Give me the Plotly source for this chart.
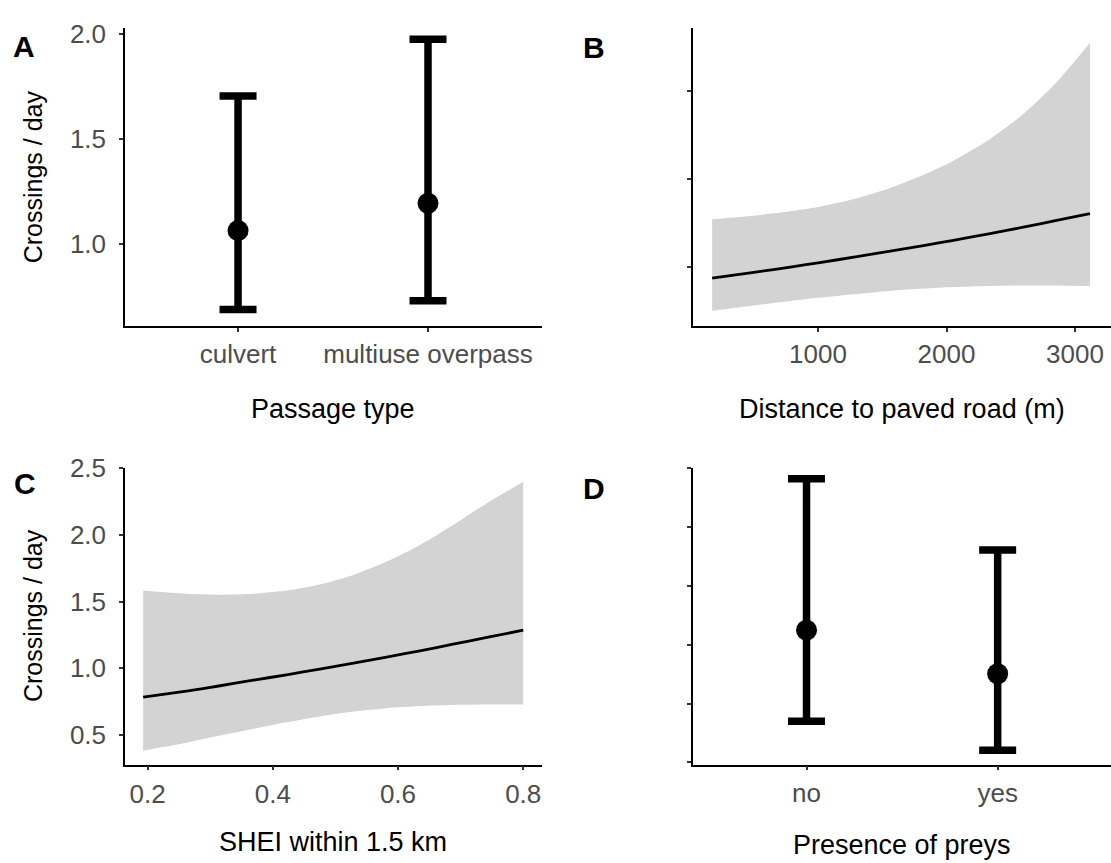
import plotly.graph_objects as go

# ---------------- data ----------------
passage_types = ["culvert", "multiuse overpass"]
passage_mean = [1.062, 1.192]
passage_low = [0.686, 0.728]
passage_high = [1.703, 1.973]

dist_x = [176, 500, 785, 1000, 1303, 1562, 1821, 2054, 2339, 2598, 2857, 3116]
dist_fit = [0.939, 0.972, 1.002, 1.026, 1.061, 1.092, 1.124, 1.154, 1.192, 1.228, 1.266, 1.305]
dist_low = [0.755, 0.785, 0.810, 0.828, 0.850, 0.867, 0.880, 0.889, 0.895, 0.898, 0.898, 0.895]
dist_high = [1.273, 1.293, 1.318, 1.342, 1.392, 1.450, 1.525, 1.605, 1.728, 1.870, 2.050, 2.273]

shei_x = [0.193, 0.262, 0.316, 0.369, 0.422, 0.475, 0.529, 0.582, 0.635, 0.688, 0.742, 0.800]
shei_fit = [0.782, 0.828, 0.868, 0.910, 0.950, 0.993, 1.037, 1.083, 1.130, 1.180, 1.231, 1.285]
shei_low = [0.381, 0.440, 0.494, 0.545, 0.594, 0.638, 0.674, 0.700, 0.716, 0.724, 0.727, 0.728]
shei_high = [1.582, 1.558, 1.551, 1.558, 1.582, 1.628, 1.700, 1.800, 1.925, 2.075, 2.238, 2.399]

prey_levels = ["no", "yes"]
prey_mean = [1.124, 0.753]
prey_low = [0.350, 0.104]
prey_high = [2.411, 1.804]

ytick_A = [1.0, 1.5, 2.0]
ytick_B = [1.0, 1.5, 2.0]
ytick_C = [0.5, 1.0, 1.5, 2.0, 2.5]
ytick_D = [0.0, 0.5, 1.0, 1.5, 2.0, 2.5]
xtick_B = [1000, 2000, 3000]
xtick_C = [0.2, 0.4, 0.6, 0.8]

# ---------------- figure ----------------
W, H = 1111, 863
FONT = "Liberation Sans, Arial, sans-serif"
TICK_GREY = "#4D4D4D"
RIBBON = "#D3D3D3"


def px_x(p):
    return p / W


def px_y(p):
    return 1 - p / H


fig = go.Figure()


def errbar(cats, mean, low, high, xa, ya):
    fig.add_trace(go.Scatter(
        x=cats, y=mean, mode="markers", xaxis=xa, yaxis=ya,
        marker=dict(color="black", size=21),
        error_y=dict(type="data", symmetric=False,
                     array=[h - m for h, m in zip(high, mean)],
                     arrayminus=[m - l for m, l in zip(mean, low)],
                     color="black", thickness=7.5, width=18.5),
        showlegend=False, hoverinfo="skip"))


def ribbon(x, fit, low, high, xa, ya):
    fig.add_trace(go.Scatter(x=x, y=low, mode="lines",
                             line=dict(width=0, color=RIBBON, shape="spline", smoothing=0.7),
                             xaxis=xa, yaxis=ya, showlegend=False, hoverinfo="skip"))
    fig.add_trace(go.Scatter(x=x, y=high, mode="lines",
                             line=dict(width=0, color=RIBBON, shape="spline", smoothing=0.7),
                             fill="tonexty", fillcolor=RIBBON,
                             xaxis=xa, yaxis=ya, showlegend=False, hoverinfo="skip"))
    fig.add_trace(go.Scatter(x=x, y=fit, mode="lines",
                             line=dict(width=2.8, color="black", shape="spline", smoothing=0.7),
                             xaxis=xa, yaxis=ya, showlegend=False, hoverinfo="skip"))


errbar(passage_types, passage_mean, passage_low, passage_high, "x", "y")
ribbon(dist_x, dist_fit, dist_low, dist_high, "x2", "y2")
ribbon(shei_x, shei_fit, shei_low, shei_high, "x3", "y3")
errbar(prey_levels, prey_mean, prey_low, prey_high, "x4", "y4")

axis_common = dict(showline=True, linecolor="black", linewidth=1.5,
                   ticks="outside", ticklen=4, tickwidth=1.5, tickcolor="#333333",
                   showgrid=False, zeroline=False,
                   tickfont=dict(family=FONT, size=26, color=TICK_GREY))

dom_x_left = [px_x(125), px_x(542)]
dom_x_right = [px_x(693), 1.0]
dom_y_top = [px_y(317), px_y(14)]
dom_y_bot = [px_y(763), px_y(461)]

fig.update_layout(
    width=W, height=H,
    margin=dict(l=0, r=0, t=0, b=0),
    paper_bgcolor="white", plot_bgcolor="white",
    showlegend=False,
    xaxis=dict(axis_common, domain=dom_x_left, anchor="y", type="category",
               range=[-0.595, 1.6], ticklabelstandoff=0),
    yaxis=dict(axis_common, domain=dom_y_top, anchor="x", range=[0.608, 2.028],
               tickvals=ytick_A, tickformat=".1f", ticklabelstandoff=8),
    xaxis2=dict(axis_common, domain=dom_x_right, anchor="y2", range=[27, 3280],
                tickvals=xtick_B, tickformat="d", ticklabelstandoff=0),
    yaxis2=dict(axis_common, domain=dom_y_top, anchor="x2", range=[0.669, 2.358],
                tickvals=ytick_B, showticklabels=False),
    xaxis3=dict(axis_common, domain=dom_x_left, anchor="y3", range=[0.164, 0.830],
                tickvals=xtick_C, tickformat=".1f", ticklabelstandoff=1),
    yaxis3=dict(axis_common, domain=dom_y_bot, anchor="x3", range=[0.276, 2.506],
                tickvals=ytick_C, tickformat=".1f", ticklabelstandoff=8),
    xaxis4=dict(axis_common, domain=dom_x_right, anchor="y4", type="category",
                range=[-0.594, 1.593], ticklabelstandoff=0),
    yaxis4=dict(axis_common, domain=dom_y_bot, anchor="x4", range=[-0.019, 2.506],
                tickvals=ytick_D, showticklabels=False),
)


def label(text, x, y, size=27, bold=False, angle=0):
    fig.add_annotation(text=text, x=px_x(x), y=px_y(y), xref="paper", yref="paper",
                       xanchor="center", yanchor="middle", showarrow=False, textangle=angle,
                       font=dict(family=FONT, size=size, color="black",
                                 weight="bold" if bold else "normal"))


# panel letters
label("A", 24, 33, size=30, bold=True)
label("B", 594, 34, size=30, bold=True)
label("C", 25, 477, size=30, bold=True)
label("D", 594, 482, size=30, bold=True)

# axis titles
label("Crossings / day", 33, 166, size=25, angle=-90)
label("Crossings / day", 33, 612, size=25, angle=-90)
label("Passage type", 333, 402)
label("Distance to paved road (m)", 902, 402)
label("SHEI within 1.5 km", 333, 842)
label("Presence of preys", 902, 845)

fig.write_html("out.html", config={"displayModeBar": False},
               post_script="document.body.style.margin='0px';document.body.style.overflow='hidden';")
